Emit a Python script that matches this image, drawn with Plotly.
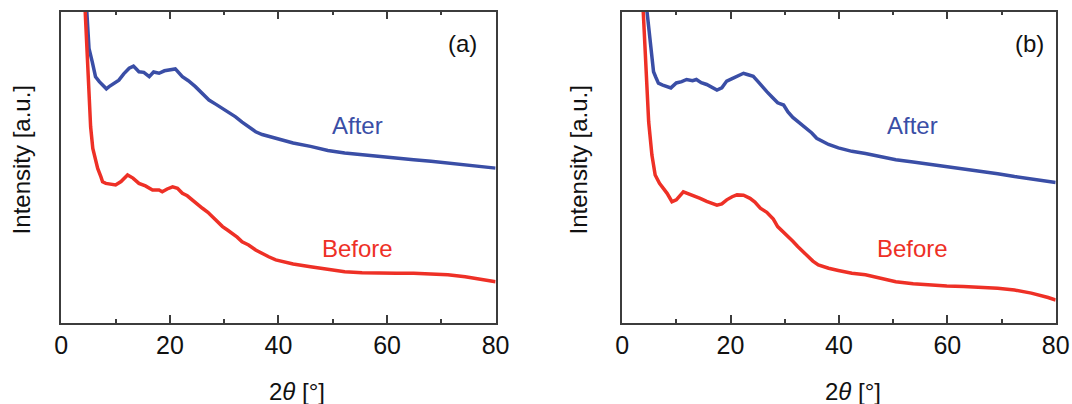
import plotly.graph_objects as go

# Panel (a)
a_after_x = [4.7, 5.1, 5.7, 6.3, 7.0, 7.6, 8.3, 8.8, 9.5, 10.6, 11.5, 12.5, 13.3, 14.3, 15.2, 16.2, 17.0, 18.0, 19.0, 20.1, 21.0, 22.3, 23.4, 24.7, 26.0, 27.2, 28.5, 29.7, 31.0, 32.1, 33.3, 34.5, 35.8, 37.0, 38.3, 40.2, 42.7, 45.9, 49.1, 52.2, 55.4, 58.6, 61.7, 64.9, 68.1, 71.2, 74.4, 77.6, 80.0]
a_after_y = [100, 88.2, 83.9, 79.1, 77.5, 76.4, 75.2, 75.9, 76.8, 78.0, 80.0, 81.8, 82.5, 80.7, 80.5, 79.1, 80.6, 80.2, 81.0, 81.3, 81.6, 79.1, 77.8, 75.9, 73.8, 71.6, 70.2, 68.9, 67.5, 66.2, 64.5, 63.0, 61.4, 60.5, 59.9, 58.9, 57.8, 56.7, 55.4, 54.6, 54.0, 53.5, 53.0, 52.4, 51.9, 51.3, 50.8, 50.3, 49.7]

a_before_x = [4.4, 4.8, 5.1, 5.4, 5.8, 6.3, 6.7, 7.3, 7.6, 8.2, 9.2, 10.0, 11.0, 12.2, 13.2, 14.3, 15.5, 16.8, 18.0, 18.6, 19.5, 20.5, 21.4, 22.3, 23.2, 24.1, 25.0, 26.0, 27.0, 27.8, 28.8, 29.7, 30.6, 31.5, 32.4, 33.3, 34.5, 35.8, 37.0, 38.2, 39.5, 40.8, 42.7, 45.9, 49.1, 52.2, 55.4, 58.6, 61.7, 64.9, 68.1, 71.2, 74.4, 77.6, 80.0]
a_before_y = [100, 85, 72, 63, 56, 52, 49.6, 46.9, 45.3, 44.8, 44.4, 44.3, 45.4, 47.5, 46.5, 44.8, 44.0, 42.7, 42.7, 42.1, 43.0, 43.7, 43.2, 41.6, 40.8, 39.5, 38.0, 36.8, 35.5, 34.1, 32.5, 30.9, 29.8, 28.7, 27.5, 26.0, 25.0, 23.4, 22.2, 21.2, 20.2, 19.6, 18.9, 18.0, 17.2, 16.4, 16.1, 15.9, 15.9, 15.9, 15.7, 15.4, 14.8, 14.0, 13.2]

# Panel (b)
b_after_x = [4.6, 5.2, 5.8, 6.2, 6.7, 7.5, 8.1, 9.0, 10.0, 11.0, 11.9, 13.0, 13.7, 14.6, 15.6, 16.5, 17.5, 18.4, 19.3, 20.3, 21.2, 22.4, 23.1, 24.2, 25.0, 25.8, 26.7, 27.7, 28.7, 29.8, 30.6, 31.5, 32.8, 33.9, 35.0, 35.9, 37.0, 38.1, 39.9, 42.4, 44.9, 47.4, 50.5, 53.7, 56.8, 59.9, 63.0, 66.1, 69.3, 72.4, 75.5, 78.6, 80.0]
b_after_y = [100, 89.3, 80.7, 79.0, 77.0, 76.4, 76.0, 75.5, 77.1, 77.5, 78.2, 77.8, 78.2, 77.2, 76.6, 75.8, 74.8, 75.5, 77.7, 78.5, 79.3, 80.2, 79.8, 79.2, 77.7, 76.0, 74.3, 72.5, 70.7, 70.0, 67.8, 66.0, 64.1, 62.5, 61.0, 59.3, 58.2, 57.3, 56.2, 55.1, 54.4, 53.5, 52.4, 51.7, 51.0, 50.3, 49.4, 48.7, 47.9, 47.0, 46.2, 45.4, 45.1]

b_before_x = [3.9, 4.3, 4.9, 5.5, 6.1, 6.9, 7.5, 8.3, 9.2, 10.0, 11.3, 11.9, 12.8, 13.7, 14.4, 15.6, 16.5, 17.5, 18.4, 19.3, 20.3, 21.2, 22.4, 23.6, 24.5, 25.5, 26.7, 27.9, 28.7, 29.6, 30.6, 31.5, 32.4, 33.3, 34.3, 35.2, 36.2, 38.1, 39.9, 42.4, 44.9, 47.4, 50.5, 53.7, 56.8, 59.9, 63.0, 66.1, 69.3, 72.4, 75.5, 78.6, 80.0]
b_before_y = [100, 86, 64.6, 53.9, 47.5, 44.8, 43.5, 41.6, 38.9, 39.5, 42.1, 41.7, 41.0, 40.6, 40.0, 39.0, 38.5, 37.8, 38.2, 39.5, 40.5, 41.1, 41.0, 40.0, 38.8, 36.8, 35.5, 33.3, 30.9, 29.5, 27.7, 26.2, 24.5, 23.0, 21.3, 19.8, 18.6, 17.5, 16.8, 15.9, 15.4, 14.3, 13.2, 12.5, 12.1, 11.8, 11.6, 11.3, 11.1, 10.5, 9.5, 8.1, 7.3]

x_ticks = [0, 20, 40, 60, 80]
series_names = ["After", "Before"]
panel_labels = ["(a)", "(b)"]

BLUE = "#3a4ea6"
RED = "#ee3026"
AXC = "#3c3c3c"
FONT = "Liberation Sans, Arial, sans-serif"
W, H = 1072, 404
LW = 3.5

fig = go.Figure()
fig.add_trace(go.Scatter(x=a_after_x, y=a_after_y, mode="lines", line=dict(color=BLUE, width=LW), xaxis="x", yaxis="y", showlegend=False))
fig.add_trace(go.Scatter(x=a_before_x, y=a_before_y, mode="lines", line=dict(color=RED, width=LW), xaxis="x", yaxis="y", showlegend=False))
fig.add_trace(go.Scatter(x=b_after_x, y=b_after_y, mode="lines", line=dict(color=BLUE, width=LW), xaxis="x2", yaxis="y2", showlegend=False))
fig.add_trace(go.Scatter(x=b_before_x, y=b_before_y, mode="lines", line=dict(color=RED, width=LW), xaxis="x2", yaxis="y2", showlegend=False))

ydom = [1 - 322.7 / H, 1 - 11.7 / H]

def px(x):
    # horizontal placement in page pixels
    return (x - 5.6) / 0.982

def xax(dom, anchor):
    return dict(domain=dom, anchor=anchor, range=[0, 80], tickvals=x_ticks, ticktext=[str(v) for v in x_ticks],
                showline=True, linecolor=AXC, linewidth=1.5, mirror="ticks", ticks="inside", ticklen=8,
                tickwidth=1.5, tickcolor=AXC, showgrid=False, zeroline=False,
                tickfont=dict(family=FONT, size=25, color="#111"), ticklabelstandoff=0,
                minor=dict(dtick=10, tick0=0, ticks="inside", ticklen=4, tickwidth=1.5, tickcolor=AXC, showgrid=False))

def yax(anchor):
    return dict(domain=ydom, anchor=anchor, range=[0, 100], showline=True, linecolor=AXC, linewidth=1.5,
                mirror=True, ticks="", showticklabels=False, showgrid=False, zeroline=False)

fig.update_layout(
    width=W, height=H, autosize=False,
    margin=dict(l=0, r=0, t=0, b=0),
    paper_bgcolor="white", plot_bgcolor="white",
    xaxis=xax([px(60) / W, px(495) / W], "y"),
    yaxis=yax("x"),
    xaxis2=xax([px(621.7) / W, px(1056) / W], "y2"),
    yaxis2=yax("x2"),
)

def ann(x, y, text, color="#111", size=24, angle=0):
    fig.add_annotation(x=px(x) / W, y=1 - y / H, xref="paper", yref="paper", text=text, showarrow=False,
                       textangle=angle, xanchor="center", yanchor="middle",
                       font=dict(family=FONT, size=size, color=color))

ann(296, 391, "2<i>θ</i> [°]")
ann(853, 391, "2<i>θ</i> [°]")
ann(20, 160, "Intensity [a.u.]", angle=-90)
ann(578, 160, "Intensity [a.u.]", angle=-90)
ann(357, 125, series_names[0], color=BLUE)
ann(357, 248, series_names[1], color=RED)
ann(913, 125, series_names[0], color=BLUE)
ann(913, 248, series_names[1], color=RED)
ann(462, 44, panel_labels[0])
ann(1030, 44, panel_labels[1])

fig.write_html("out.html", config={"displayModeBar": False},
               post_script="document.body.style.margin='0';document.body.style.overflow='hidden';")
